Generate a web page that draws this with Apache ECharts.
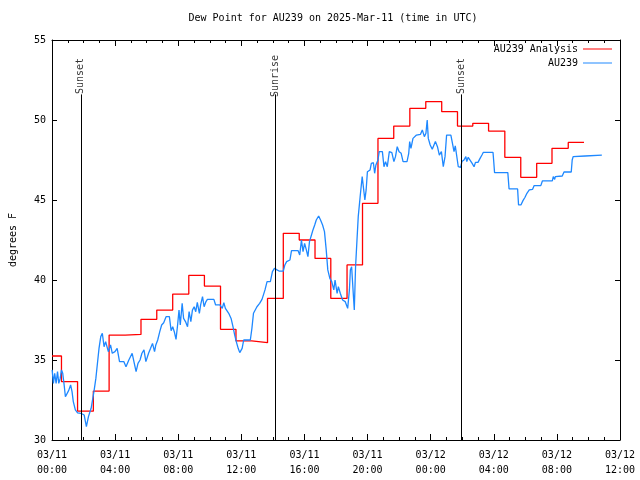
<!DOCTYPE html>
<html><head><meta charset="utf-8">
<script src="https://cdn.jsdelivr.net/npm/echarts@6/dist/echarts.min.js"></script>
<style>html,body{margin:0;padding:0;background:#fff}#c{width:640px;height:480px}</style>
</head><body><div id="c"></div>
<script>
const xTickLabels = ['03/11\n00:00','03/11\n04:00','03/11\n08:00','03/11\n12:00','03/11\n16:00','03/11\n20:00','03/12\n00:00','03/12\n04:00','03/12\n08:00','03/12\n12:00'];

// hours since 03/11 00:00 UTC
const anaTimes = [0,0.6,1.62,2.62,3.62,4.64,5.64,6.64,7.65,8.67,9.66,10.68,11.66,12.66,13.66,14.66,15.67,16.67,17.67,18.7,19.68,20.66,21.66,22.68,23.69,24.7,25.7,26.67,27.67,28.7,29.71,30.72,31.69,32.72,33.72];
const anaValues = [35.25,33.65,31.8,33.06,36.56,36.6,37.54,38.12,39.12,40.29,39.62,36.92,36.19,36.08,38.85,42.92,42.5,41.35,38.85,40.94,44.79,48.85,49.62,50.73,51.15,50.52,49.62,49.79,49.31,47.67,46.42,47.29,48.23,48.6,48.6];

const obsTimes = [0.01,0.09,0.17,0.26,0.35,0.43,0.52,0.6,0.68,0.77,0.85,0.97,1.06,1.18,1.27,1.35,1.48,1.62,1.83,2.04,2.18,2.31,2.48,2.57,2.67,2.78,2.88,2.98,3.09,3.19,3.3,3.4,3.57,3.71,3.82,3.99,4.13,4.28,4.55,4.69,4.87,5.08,5.2,5.33,5.45,5.58,5.7,5.83,5.95,6.12,6.25,6.37,6.5,6.58,6.7,6.83,6.95,7.08,7.23,7.44,7.55,7.65,7.75,7.86,7.96,8.05,8.13,8.25,8.34,8.46,8.59,8.69,8.8,8.9,9.01,9.11,9.21,9.34,9.42,9.54,9.64,9.76,9.85,10.26,10.37,10.64,10.79,10.89,10.99,11.1,11.2,11.35,11.47,11.58,11.68,11.8,11.9,12.05,12.15,12.57,12.67,12.77,12.89,12.99,13.16,13.31,13.38,13.5,13.63,13.75,13.84,13.97,14.1,14.18,14.26,14.39,14.66,14.76,14.87,14.97,15.08,15.18,15.6,15.7,15.81,15.91,16.01,16.12,16.22,16.32,16.44,16.54,16.65,16.75,16.9,17.02,17.15,17.27,17.38,17.48,17.61,17.73,17.86,17.94,18.07,18.15,18.27,18.42,18.58,18.74,18.85,18.91,18.99,19.08,19.16,19.24,19.33,19.41,19.53,19.66,19.74,19.83,19.91,19.99,20.08,20.16,20.24,20.37,20.45,20.53,20.66,20.74,20.94,21.04,21.14,21.25,21.38,21.54,21.67,21.77,21.88,22.0,22.13,22.25,22.5,22.61,22.67,22.75,22.88,22.96,23.1,23.35,23.47,23.6,23.7,23.78,23.85,23.97,24.1,24.22,24.3,24.43,24.55,24.68,24.8,24.91,25.01,25.28,25.4,25.48,25.56,25.65,25.75,25.9,25.98,26.11,26.23,26.29,26.38,26.5,26.63,26.75,26.84,27.0,27.13,27.25,27.34,27.95,27.99,28.05,28.89,28.97,29.51,29.57,29.72,29.85,29.98,30.1,30.25,30.46,30.56,30.98,31.08,31.71,31.77,31.86,31.9,32.34,32.45,32.91,32.97,33.03,33.79,33.87,34.85];
const obsValues = [34.38,33.54,34.17,33.54,34.27,33.54,33.85,34.38,34.17,33.44,32.7,32.6,33.1,33.44,33.02,32.4,31.88,31.7,31.67,31.56,30.83,31.46,31.98,31.88,33.1,33.85,34.8,35.73,36.46,36.67,35.83,36.15,35.52,35.94,35.42,35.52,35.73,34.9,34.9,34.58,35.0,35.42,35.52,34.27,34.79,35.0,35.42,35.63,34.9,35.42,35.73,36.04,35.52,35.94,36.25,36.77,37.19,37.33,37.71,37.71,36.83,37.08,36.77,36.29,37.19,38.12,37.19,38.54,37.6,37.4,37.08,38.02,37.4,38.12,38.33,38.02,38.6,37.92,38.44,38.96,38.33,38.65,38.79,38.79,38.44,38.44,38.23,38.58,38.23,38.12,37.92,37.6,37.08,36.56,36.15,35.73,35.46,35.73,36.25,36.25,36.98,37.92,38.02,38.33,38.54,38.79,38.85,39.38,39.9,40.0,39.9,40.52,40.73,40.83,40.63,40.56,40.56,40.94,41.15,41.04,41.25,41.83,41.83,41.56,42.5,41.77,42.29,41.88,41.46,42.4,42.8,43.13,43.44,43.75,44.0,43.75,43.44,43.02,41.88,40.63,40.1,39.9,39.38,40.0,39.17,39.58,39.17,38.75,38.65,38.23,39.38,40.63,40.83,39.38,38.13,40.83,42.5,43.96,45.2,46.46,46.56,45.0,45.63,46.77,46.67,46.88,47.29,47.33,46.67,47.19,47.5,48.02,48.02,47.08,47.4,47.08,48.02,47.96,47.4,47.71,48.33,48.02,47.92,47.4,47.4,47.92,48.65,48.23,48.85,48.75,49.06,49.1,49.38,48.96,49.17,50.0,48.85,48.44,48.17,48.06,48.65,48.33,47.81,48.02,47.08,47.71,49.06,49.06,48.44,48.02,48.38,48.33,47.08,47.04,47.4,47.5,47.71,47.4,47.67,47.6,47.29,47.08,47.35,47.35,47.6,47.81,47.98,47.98,47.5,46.71,46.71,45.69,45.69,44.69,44.69,44.96,45.17,45.42,45.63,45.67,45.9,45.9,46.19,46.19,46.46,46.29,46.46,46.5,46.75,46.75,47.5,47.71,47.75,47.81,47.81];

const eventTimes = [1.83, 14.18, 25.92];
const eventNames = ['Sunset', 'Sunrise', 'Sunset'];

const FONT = 'DejaVu Sans Mono';
const chart = echarts.init(document.getElementById('c'), null, {renderer: 'canvas'});

const xCommon = {
  type: 'value', min: 0, max: 36, interval: 4,
  splitLine: {show: false},
  axisLine: {show: true, onZero: false, lineStyle: {color: '#000', width: 1}},
  axisTick: {show: true, inside: true, length: 6, lineStyle: {color: '#000'}},
  minorTick: {show: true, splitNumber: 4, length: 3, lineStyle: {color: '#000'}},
  minorSplitLine: {show: false}
};
const yCommon = {
  type: 'value', min: 30, max: 55, interval: 5,
  splitLine: {show: false},
  axisLine: {show: true, onZero: false, lineStyle: {color: '#000', width: 1}},
  axisTick: {show: true, inside: true, length: 5, lineStyle: {color: '#000'}}
};

chart.setOption({
  animation: false,
  backgroundColor: '#fff',
  title: {
    text: 'Dew Point for AU239 on 2025-Mar-11 (time in UTC)',
    left: 333, top: 13, textAlign: 'center', padding: 0,
    textStyle: {fontFamily: FONT, fontSize: 10, fontWeight: 'normal', color: '#000'}
  },
  legend: {
    data: ['AU239 Analysis', 'AU239'],
    orient: 'vertical', align: 'right', right: 28, top: 42, padding: 0,
    itemWidth: 29, itemHeight: 1, itemGap: 0, icon: 'rect',
    textStyle: {fontFamily: FONT, fontSize: 10, color: '#000', lineHeight: 14}
  },
  grid: {left: 46, right: 20, top: 40, bottom: 40},
  xAxis: [
    Object.assign({}, xCommon, {
      position: 'bottom',
      axisLabel: {show: true, fontFamily: FONT, fontSize: 10, color: '#000', lineHeight: 15, margin: 8,
        showMinLabel: true, showMaxLabel: true,
        formatter: function (v) { return xTickLabels[Math.round(v / 4)]; }}
    }),
    Object.assign({}, xCommon, {position: 'top', axisLabel: {show: false}})
  ],
  yAxis: [
    Object.assign({}, yCommon, {
      position: 'left',
      name: 'degrees F', nameLocation: 'middle', nameRotate: 90, nameGap: 34,
      nameTextStyle: {fontFamily: FONT, fontSize: 10, color: '#000'},
      axisLabel: {show: true, fontFamily: FONT, fontSize: 10, color: '#000', margin: 6}
    }),
    Object.assign({}, yCommon, {position: 'right', axisLabel: {show: false}})
  ],
  series: [
    {
      name: 'AU239 Analysis', type: 'line', step: 'end', symbol: 'none',
      data: anaTimes.map(function (t, i) { return [t, anaValues[i]]; }),
      lineStyle: {color: '#ff0000', width: 1.3}, itemStyle: {color: '#ff0000'}, z: 2
    },
    {
      name: 'AU239', type: 'line', symbol: 'none',
      data: obsTimes.map(function (t, i) { return [t, obsValues[i]]; }),
      lineStyle: {color: '#1e88ff', width: 1.3}, itemStyle: {color: '#1e88ff'}, z: 3
    },
    {
      name: 'events', type: 'scatter', symbolSize: 0, z: 4,
      data: eventTimes.map(function (t, i) { return [t, 52.75, eventNames[i]]; }),
      label: {show: true, position: 'inside', rotate: 90, fontFamily: FONT, fontSize: 10, color: '#000',
        formatter: function (p) { return p.value[2]; }},
      markLine: {
        silent: true, symbol: 'none', label: {show: false},
        lineStyle: {color: '#000', width: 1, type: 'solid'},
        data: eventTimes.map(function (t) { return [{coord: [t, 30]}, {coord: [t, 51.6]}]; })
      }
    }
  ]
});
</script>
</body></html>
